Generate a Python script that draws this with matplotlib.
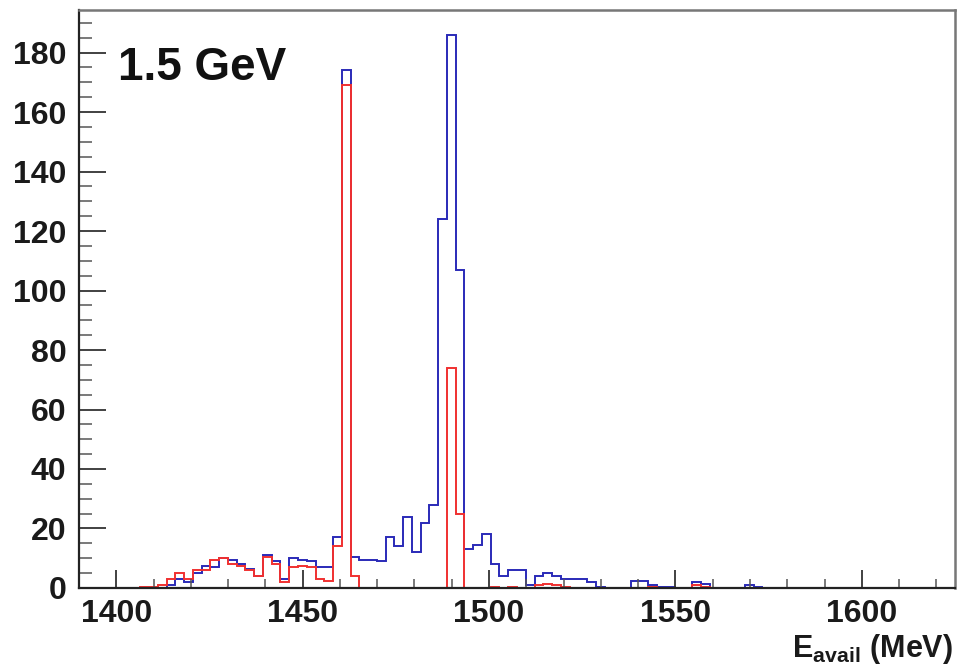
import numpy as np
import matplotlib
matplotlib.use('Agg')
import matplotlib.pyplot as plt
from matplotlib.ticker import MultipleLocator

plt.rcParams['font.family'] = ['Liberation Sans', 'DejaVu Sans']
plt.rcParams['mathtext.fontset'] = 'custom'
plt.rcParams['mathtext.rm'] = 'Liberation Sans:bold'
plt.rcParams['mathtext.bf'] = 'Liberation Sans:bold'

# histogram binning: 100 bins over the axis range
x_lo, x_hi, n_bins = 1390.0, 1625.0, 100
edges = np.linspace(x_lo, x_hi, n_bins + 1)

# bin contents (bins 0..99)
blue_counts = [0, 0, 0, 0, 0, 0, 0, 0, 0, 0,
               1, 3, 2, 5, 7.5, 7, 10, 9.5, 8, 6.5,
               4, 11, 9, 3, 10, 9.5, 9, 7, 7, 17,
               174, 10.5, 9.5, 9.5, 9, 17, 14, 24, 12, 22,
               28, 124, 186, 107, 13, 14.5, 18, 8, 4, 6,
               6, 1, 4, 5, 4, 3, 3, 3, 2, 0.5,
               0, 0, 0, 2.5, 2.5, 1, 0.5, 0.5, 0, 0,
               2, 1.5, 0, 0, 0, 0, 1, 0.5, 0, 0,
               0, 0, 0, 0, 0, 0, 0, 0, 0, 0,
               0, 0, 0, 0, 0, 0, 0, 0, 0, 0]
red_counts = [0, 0, 0, 0, 0, 0, 0, 0.5, 0.5, 1,
              3, 5, 3, 6, 6, 9.5, 10, 8, 7.5, 6,
              4, 10.5, 8, 2, 7, 7.5, 7, 3, 2.5, 14,
              169, 4, 0, 0, 0, 0, 0, 0, 0, 0,
              0, 0, 74, 25, 0, 0, 0, 0.5, 0, 0.5,
              0, 0, 1, 1.5, 1, 0.5, 0, 0, 0, 0,
              0, 0, 0, 0, 0, 0.5, 0, 0, 0, 0,
              1, 0.5, 0, 0, 0, 0, 0, 0, 0, 0,
              0, 0, 0, 0, 0, 0, 0, 0, 0, 0,
              0, 0, 0, 0, 0, 0, 0, 0, 0, 0]

energy_label = '1.5 GeV'
x_title = r'$\mathbf{E}_{\mathbf{avail}}$ (MeV)'

fig = plt.figure(figsize=(9.59, 6.65), dpi=100)
ax = fig.add_axes([0.0824, 0.1158, 0.9134, 0.8692])

ax.stairs(blue_counts, edges, color='#2a2ab8', lw=1.4)
ax.stairs(red_counts, edges, color='#f03030', lw=1.4)

ax.set_xlim(x_lo, x_hi)
ax.set_ylim(0, 194.3)

ax.xaxis.set_major_locator(MultipleLocator(50))
ax.xaxis.set_minor_locator(MultipleLocator(10))
ax.yaxis.set_major_locator(MultipleLocator(20))
ax.yaxis.set_minor_locator(MultipleLocator(5))

ax.tick_params(axis='x', which='major', direction='in', length=13, width=1.3,
               color='#333333', labelsize=23, pad=8, labelcolor='#1a1a1a')
ax.tick_params(axis='x', which='minor', direction='in', length=6.5, width=1.1,
               color='#555555')
ax.tick_params(axis='y', which='major', direction='in', length=19.5, width=1.3,
               color='#333333', labelsize=23, pad=9, labelcolor='#1a1a1a')
ax.tick_params(axis='y', which='minor', direction='in', length=9.5, width=1.1,
               color='#555555')
for lab in ax.get_xticklabels() + ax.get_yticklabels():
    lab.set_fontweight('bold')

for side in ('left', 'bottom'):
    ax.spines[side].set_color('#222222')
    ax.spines[side].set_linewidth(1.6)
for side in ('top', 'right'):
    ax.spines[side].set_color('#777777')
    ax.spines[side].set_linewidth(1.8)

fig.text(0.123, 0.880, energy_label, fontsize=33, fontweight='bold',
         color='#111111', ha='left', va='baseline')
fig.text(0.9937, 0.012, x_title, fontsize=22, fontweight='bold',
         color='#1a1a1a', ha='right', va='baseline')

fig.savefig('out.png', dpi=100, facecolor='white')
